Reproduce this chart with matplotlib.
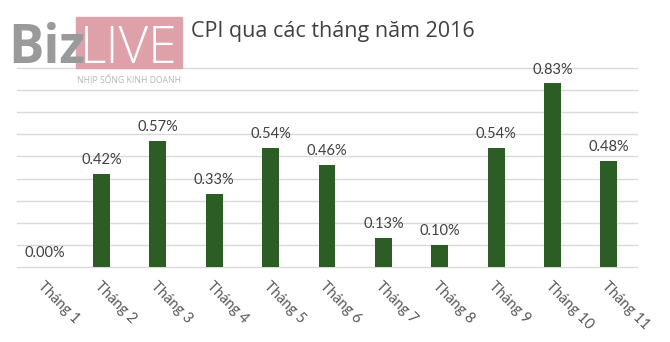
import numpy as np
import matplotlib.pyplot as plt
from matplotlib.patches import Rectangle

# CPI theo tháng năm 2016 (%)
months = ["Tháng 1", "Tháng 2", "Tháng 3", "Tháng 4", "Tháng 5", "Tháng 6",
          "Tháng 7", "Tháng 8", "Tháng 9", "Tháng 10", "Tháng 11"]
cpi = [0.00, 0.42, 0.57, 0.33, 0.54, 0.46, 0.13, 0.10, 0.54, 0.83, 0.48]

bar_color = "#2b5d24"
grid_color = "#d9d9d9"
label_color = "#404040"

fig = plt.figure(figsize=(6.7, 3.42), dpi=100)
ax = fig.add_axes([17 / 670, 75 / 342, 620 / 670, 199 / 342])

x = np.arange(len(months))
ax.bar(x, cpi, width=0.3, color=bar_color, zorder=3)
ax.set_xlim(-0.5, len(months) - 0.5)
ax.set_ylim(0, 0.9)
ax.set_yticks(np.arange(0, 0.91, 0.1))
ax.yaxis.grid(True, color=grid_color, linewidth=1, clip_on=False)
ax.set_axisbelow(True)
ax.tick_params(left=False, bottom=False, labelleft=False, labelbottom=False)
for s in ax.spines.values():
    s.set_visible(False)

# nhãn giá trị trên cột
for xi, v in zip(x, cpi):
    ax.annotate(f"{v:.2f}%", (xi, v), xytext=(0, 5), textcoords="offset points",
                ha="center", va="bottom", fontsize=10.5, family="Lato",
                color=label_color)

# nhãn trục x xoay chéo
for xi, m in zip(x, months):
    ax.annotate(m, (xi, 0), xytext=(0, -9), textcoords="offset points",
                ha="left", va="top", rotation=-45, rotation_mode="anchor",
                fontsize=10.5, family="Lato", color="#595959",
                annotation_clip=False)

# logo
fig.patches.append(Rectangle((76 / 670, 1 - 68 / 342), 106 / 670, 51 / 342,
                             transform=fig.transFigure, color="#dfa1a9",
                             zorder=5))
fig.text(8 / 670, 1 - 63 / 342, "Biz", fontsize=38, fontweight="bold",
         family="Open Sans", color="#9a9a9a", va="baseline", ha="left", zorder=6)
fig.text(80 / 670, 1 - 63 / 342, "LIVE", fontsize=37, fontweight="light",
         family="Open Sans", color="white", va="baseline", ha="left", zorder=6)
fig.text(129 / 670, 1 - 79 / 342, "NHỊP SỐNG KINH DOANH", fontsize=6.2,
         family="Open Sans", color="#b5b5b5", va="center", ha="center", zorder=6)

fig.text(191 / 670, 1 - 37 / 342, "CPI qua các tháng năm 2016", fontsize=15.5,
         family="Open Sans", color=label_color, va="baseline", ha="left")

fig.savefig("out.png", dpi=100, facecolor="white")
